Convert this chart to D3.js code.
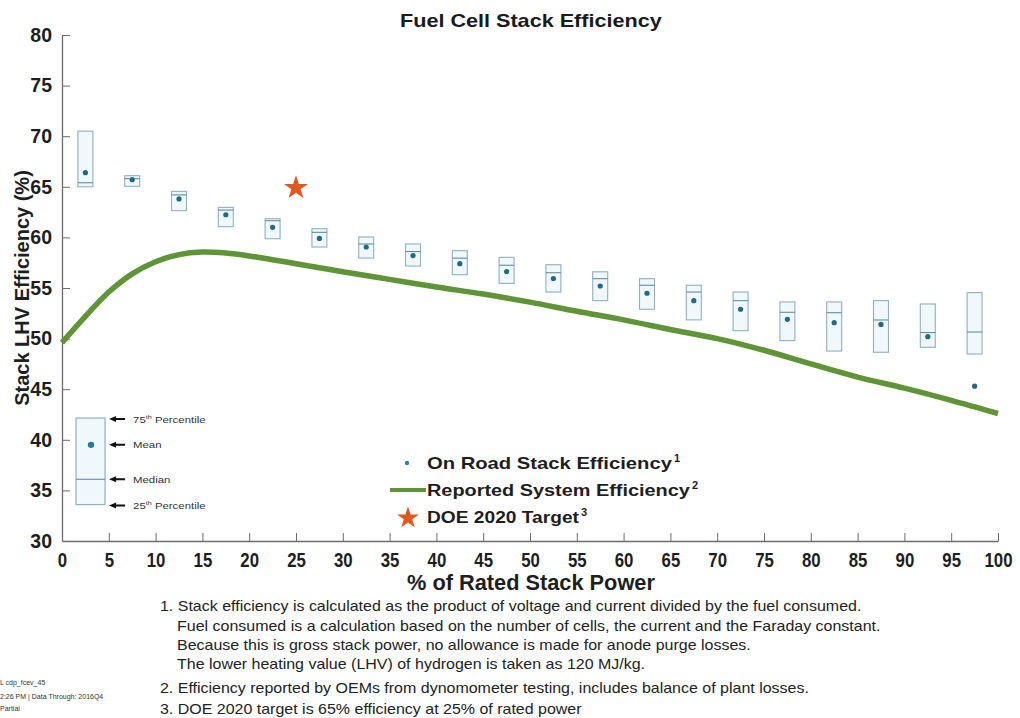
<!DOCTYPE html>
<html><head><meta charset="utf-8">
<script src="https://cdn.jsdelivr.net/npm/d3@7"></script>
<style>
html,body{margin:0;padding:0;background:#fff;}
svg{display:block;}
</style></head>
<body>
<svg id="chart" width="1020" height="718"></svg>
<script>
// ---- data ----
const binCenters = [2.5,7.5,12.5,17.5,22.5,27.5,32.5,37.5,42.5,47.5,52.5,57.5,62.5,67.5,72.5,77.5,82.5,87.5,92.5,97.5];
const q75 = [70.5,66.1,64.55,62.97,61.85,60.86,60.04,59.35,58.69,58.03,57.3,56.6,55.92,55.27,54.6,53.62,53.62,53.75,53.42,54.54];
const q25 = [65.0,65.05,62.64,61.06,59.87,59.05,57.96,57.17,56.31,55.46,54.6,53.75,52.9,51.85,50.78,49.8,48.77,48.65,49.14,48.48];
const medians = [65.4,65.8,64.2,62.7,61.65,60.5,59.35,58.6,57.95,57.25,56.51,55.92,55.27,54.6,53.75,52.6,52.56,51.84,50.6,50.65];
const means = [66.4,65.7,63.8,62.24,61.0,59.9,59.05,58.2,57.4,56.63,55.94,55.2,54.48,53.75,52.9,51.9,51.57,51.4,50.19,45.3];

const sysX = [0,2.5,5,7.5,10,12.5,15,17.5,20,22.5,25,27.5,30,35,40,45,50,55,60,65,70,75,80,85,90,95,100];
const sysEff = [49.6,52.2,54.6,56.4,57.6,58.3,58.55,58.45,58.17,57.8,57.4,57.0,56.6,55.85,55.1,54.4,53.6,52.7,51.85,50.9,50.0,48.85,47.5,46.2,45.1,43.9,42.6];

const target = {x:25, y:65};
const xTicks = d3.range(0,101,5);
const yTicks = d3.range(30,81,5);
const keyBox = {x0:1.5, x1:4.6, xm:3.1, q75:42.15, mean:39.5, median:36.1, q25:33.6};
const keyLabels = [["75","th"," Percentile"],["Mean"],["Median"],["25","th"," Percentile"]];
const legendItems = ["On Road Stack Efficiency","Reported System Efficiency","DOE 2020 Target"];
const footnotes = [
 "1. Stack efficiency is calculated as the product of voltage and current divided by the fuel consumed.",
 "Fuel consumed is a calculation based on the number of cells, the current and the Faraday constant.",
 "Because this is gross stack power, no allowance is made for anode purge losses.",
 "The lower heating value (LHV) of hydrogen is taken as 120 MJ/kg.",
 "2. Efficiency reported by OEMs from dynomometer testing, includes balance of plant losses.",
 "3. DOE 2020 target is 65% efficiency at 25% of rated power"
];
const sideNotes = ["L cdp_fcev_45", " 2:26 PM | Data Through: 2016Q4", "Partial"];

// ---- layout ----
const svg = d3.select("#chart");
const W = 1020, H = 718;
const m = {l:62, r:22, t:35, b:177};
const x = d3.scaleLinear().domain([0,100]).range([m.l, W-m.r]);
const y = d3.scaleLinear().domain([30,80]).range([H-m.b, m.t]);
const font = "'Liberation Sans', Arial, sans-serif";
const boxStroke = "#8eb0c0", boxFill = "#f0f8fc", medStroke = "#5d8ea3", dotColor = "#1f6a87";
const green = "#5f9437", starColor = "#e2561f";

// horizontally scale a left-anchored text to a target width
function stretch(sel, w, x0){
  const nat = sel.node().getComputedTextLength();
  const sx = w/nat;
  sel.attr("transform", `translate(${x0},0) scale(${sx},1) translate(${-x0},0)`);
  return sx;
}

// title
const title = svg.append("text").attr("x",400).attr("y",27)
  .attr("font-family",font).attr("font-weight","bold").attr("font-size",18).attr("fill","#1a1a1a")
  .text("Fuel Cell Stack Efficiency");
stretch(title, 262, 400);

// axes
const gx = svg.append("g").attr("transform",`translate(0,${y(30)})`)
  .call(d3.axisBottom(x).tickValues(xTicks).tickSize(-8).tickPadding(11).tickSizeOuter(0));
const gy = svg.append("g").attr("transform",`translate(${x(0)},0)`)
  .call(d3.axisLeft(y).tickValues(yTicks).tickSize(-8).tickPadding(10).tickSizeOuter(0));
[gx,gy].forEach(g=>{
  g.select(".domain").attr("stroke","#6b6b6b").attr("stroke-width",1.3);
  g.selectAll(".tick line").attr("stroke","#6b6b6b").attr("stroke-width",1);
  g.selectAll(".tick text").attr("fill","#1e1e1e").attr("font-weight","bold").attr("font-family",font);
});
gx.selectAll(".tick text").attr("font-size",21).attr("dy","0.72em").attr("transform","scale(0.8,1)");
gy.selectAll(".tick text").attr("font-size",19.5);
gx.selectAll(".tick").filter(d=>d===0).select("line").remove();
gy.selectAll(".tick").filter(d=>d===30).select("line").remove();

// axis labels
const xl = svg.append("text").attr("x",407).attr("y",590)
  .attr("font-family",font).attr("font-weight","bold").attr("font-size",22).attr("fill","#1e1e1e")
  .text("% of Rated Stack Power");
stretch(xl, 248, 407);
svg.append("text").attr("transform",`translate(29,${y(55)}) rotate(-90)`).attr("text-anchor","middle")
  .attr("font-family",font).attr("font-weight","bold").attr("font-size",20).attr("fill","#1e1e1e")
  .text("Stack LHV Efficiency (%)");

// boxes
const halfW = 0.8;
const bins = binCenters.map((c,i)=>({c, q75:q75[i], q25:q25[i], med:medians[i], mean:means[i]}));
const gb = svg.append("g");
gb.selectAll("rect.box").data(bins).join("rect").attr("class","box")
  .attr("x",d=>x(d.c-halfW)).attr("width",d=>x(d.c+halfW)-x(d.c-halfW))
  .attr("y",d=>y(d.q75)).attr("height",d=>y(d.q25)-y(d.q75))
  .attr("fill",boxFill).attr("stroke",boxStroke).attr("stroke-width",1.1);
gb.selectAll("line.med").data(bins).join("line").attr("class","med")
  .attr("x1",d=>x(d.c-halfW)).attr("x2",d=>x(d.c+halfW))
  .attr("y1",d=>y(d.med)).attr("y2",d=>y(d.med))
  .attr("stroke",medStroke).attr("stroke-width",1.1);
gb.selectAll("circle.mean").data(bins).join("circle").attr("class","mean")
  .attr("cx",d=>x(d.c)).attr("cy",d=>y(d.mean)).attr("r",2.6).attr("fill",dotColor);

// system efficiency curve
const line = d3.line().x(d=>x(d[0])).y(d=>y(d[1])).curve(d3.curveCatmullRom.alpha(0.5));
svg.append("path").datum(sysX.map((v,i)=>[v,sysEff[i]]))
  .attr("d",line).attr("fill","none").attr("stroke",green).attr("stroke-width",5.5).attr("stroke-linecap","butt");

// target star
svg.append("path").attr("d",d3.symbol(d3.symbolStar).size(180)())
  .attr("transform",`translate(${x(target.x)},${y(target.y)+1})`).attr("fill",starColor);

// key box
const gk = svg.append("g");
gk.append("rect").attr("x",x(keyBox.x0)).attr("width",x(keyBox.x1)-x(keyBox.x0))
  .attr("y",y(keyBox.q75)).attr("height",y(keyBox.q25)-y(keyBox.q75))
  .attr("fill",boxFill).attr("stroke",boxStroke).attr("stroke-width",1.2);
gk.append("line").attr("x1",x(keyBox.x0)).attr("x2",x(keyBox.x1)).attr("y1",y(keyBox.median)).attr("y2",y(keyBox.median))
  .attr("stroke",medStroke).attr("stroke-width",1.1);
gk.append("circle").attr("cx",x(keyBox.xm)).attr("cy",y(keyBox.mean)).attr("r",3.2).attr("fill","#2a7a9c");
const keyVals = [keyBox.q75, keyBox.mean, keyBox.median, keyBox.q25];
keyVals.forEach((v,i)=>{
  const yy = y(v) + (i===0?1:(i===3?1:0));
  const ax = x(keyBox.x1)+4;
  gk.append("path").attr("d",`M${ax},${yy} l7,-3 l0,2 l9,0 l0,2 l-9,0 l0,2 z`).attr("fill","#111");
  const tx = ax+24;
  const t = gk.append("text").attr("x",tx).attr("y",yy+3.5).attr("font-family",font)
    .attr("font-size",9.5).attr("fill","#333")
    .attr("transform",`translate(${tx},0) scale(1.2,1) translate(${-tx},0)`);
  const parts = keyLabels[i];
  t.append("tspan").text(parts[0]);
  if(parts.length>1){
    t.append("tspan").attr("font-size",6).attr("dy",-4).text(parts[1]);
    t.append("tspan").attr("dy",4).text(parts[2]);
  }
});

// legend
const gl = svg.append("g");
const legY = [463, 490, 517];
const legW = [245, 263, 152];
const legTX = 427;
gl.append("circle").attr("cx",407).attr("cy",legY[0]).attr("r",2.2).attr("fill","#2a86b0");
gl.append("line").attr("x1",390).attr("x2",426).attr("y1",legY[1]).attr("y2",legY[1]).attr("stroke",green).attr("stroke-width",4);
gl.append("path").attr("d",d3.symbol(d3.symbolStar).size(150)()).attr("transform",`translate(408,${legY[2]+1})`).attr("fill",starColor);
legendItems.forEach((s,i)=>{
  const t = gl.append("text").attr("x",legTX).attr("y",legY[i]+6.5).attr("font-family",font)
    .attr("font-weight","bold").attr("font-size",17).attr("fill","#1e1e1e").text(s);
  stretch(t, legW[i], legTX);
  gl.append("text").attr("x",legTX+legW[i]+2).attr("y",legY[i]-1).attr("font-family",font)
    .attr("font-weight","bold").attr("font-size",11).attr("fill","#1e1e1e").text(String(i+1));
});

// footnotes
const gf = svg.append("g").attr("font-family",font).attr("fill","#222");
const fnY = [611, 631, 650, 669, 693, 714];
const fnX = [160,177,177,177,160,160];
const ft = gf.selectAll("text").data(footnotes).join("text")
  .attr("x",(d,i)=>fnX[i]).attr("y",(d,i)=>fnY[i]).attr("font-size",14).text(d=>d);
const k = 702/ft.nodes()[0].getComputedTextLength();
ft.attr("transform",(d,i)=>`translate(${fnX[i]},0) scale(${k},1) translate(${-fnX[i]},0)`);

// side notes
const gs = svg.append("g").attr("font-family",font).attr("fill","#333").attr("font-size",7);
gs.selectAll("text").data(sideNotes).join("text").attr("x",0).attr("y",(d,i)=>[685,699,711][i]).text(d=>d);
</script>
</body></html>
